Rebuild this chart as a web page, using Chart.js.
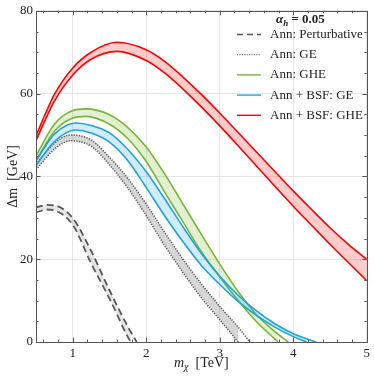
<!DOCTYPE html>
<html>
<head>
<meta charset="utf-8">
<script src="https://cdn.jsdelivr.net/npm/chart.js@4.4.1/dist/chart.umd.min.js"></script>
<style>
  html, body { margin: 0; padding: 0; background: #fff; }
</style>
</head>
<body>
<canvas id="myChart" width="374" height="381"></canvas>
<script>
// axis ticks
var xTicks = [1, 2, 3, 4, 5];
var yTicks = [0, 20, 40, 60, 80];

// Ann: Perturbative (dashed)
var pertX  = [0.5, 0.65, 0.75, 1.0, 1.25, 1.5, 1.75];
var pertHi = [32.5, 33.1, 33.0, 29.9, 22.0, 12.5, 3.7];
var pertLo = [31.3, 32.0, 31.8, 28.3, 19.0, 10.5, 1.2];
var pertHiEnd = 1.87, pertLoEnd = 1.79;

// Ann: GE (dotted)
var geX  = [0.5, 0.75, 0.97, 1.25, 1.5, 1.75, 2.0, 2.25, 2.5, 2.75, 3.0, 3.25];
var geHi = [43.0, 48.0, 50.0, 48.8, 44.6, 39.5, 33.3, 26.5, 20.0, 14.0, 8.6, 3.6];
var geLo = [41.6, 46.6, 48.6, 47.3, 42.8, 37.2, 30.5, 23.3, 16.8, 10.7, 5.4];
var geHiEnd = 3.41, geLoEnd = 3.25;

// Ann: GHE (green)
var gheX  = [0.5, 0.75, 1.0, 1.175, 1.5, 1.75, 2.0, 2.25, 2.5, 2.75, 3.0, 3.25, 3.5, 3.75];
var gheHi = [45.0, 52.6, 55.9, 56.3, 54.9, 51.8, 47.1, 40.6, 33.3, 26.0, 18.8, 12.2, 6.6, 2.5];
var gheLo = [43.8, 50.9, 54.1, 54.5, 52.6, 49.1, 43.6, 36.2, 29.0, 21.8, 15.7, 10.0, 4.9, 0.7];
var gheHiEnd = 3.93, gheLoEnd = 3.79;

// Ann + BSF: GE (blue)
var bgeX  = [0.5, 0.75, 1.04, 1.25, 1.5, 1.75, 2.0, 2.25, 2.5, 2.75, 3.0, 3.25, 3.5, 3.75, 4.0];
var bgeHi = [43.8, 50.2, 52.9, 52.3, 50.5, 46.5, 41.1, 34.6, 27.8, 21.4, 15.9, 11.3, 7.5, 4.4, 2.0];
var bgeLo = [42.6, 48.4, 51.2, 50.5, 48.3, 43.8, 37.3, 30.5, 24.2, 18.5, 13.9, 9.8, 6.4, 3.6, 1.3];
var bgeHiEnd = 4.31, bgeLoEnd = 4.18;

// Ann + BSF: GHE (red)
var bgheX  = [0.5, 0.625, 0.75, 1.0, 1.25, 1.6, 2.0, 2.25, 2.5, 2.75, 3.0, 3.25, 3.5, 3.75, 4.0, 4.25, 4.5, 4.75, 5.0];
var bgheHi = [49.8, 55.0, 59.8, 66.2, 70.0, 72.4, 70.6, 67.8, 64.0, 59.8, 55.3, 50.6, 45.9, 41.2, 36.5, 32.0, 27.6, 23.6, 20.0];
var bgheLo = [48.6, 53.6, 58.2, 64.5, 68.3, 70.2, 68.0, 65.0, 61.1, 56.8, 52.2, 47.4, 42.5, 37.6, 32.8, 28.2, 23.6, 19.2, 14.8];

var serif = '"Liberation Serif", "DejaVu Serif", serif';

function pts(xs, ys, endX) {
    var out = ys.map(function (y, i) { return { x: xs[i], y: y }; });
    if (endX != null) out.push({ x: endX, y: 0 });
    return out;
}

function band(label, xs, hi, lo, hiEnd, loEnd, line, fill, width, dash) {
    return [{
        label: label,
        data: pts(xs, hi, hiEnd),
        borderColor: line,
        backgroundColor: fill,
        borderWidth: width,
        borderDash: dash,
        fill: '+1'
    }, {
        label: '',
        data: pts(xs, lo, loEnd),
        borderColor: line,
        borderWidth: width,
        borderDash: dash,
        fill: false
    }];
}

var datasets = [].concat(
    band('Ann + BSF: GHE', bgheX, bgheHi, bgheLo, null, null, '#ff0000', 'rgba(255,0,0,0.2)', 1.6, []),
    band('Ann + BSF: GE', bgeX, bgeHi, bgeLo, bgeHiEnd, bgeLoEnd, '#1ca3e0', 'rgba(28,163,224,0.2)', 1.6, []),
    band('Ann: GHE', gheX, gheHi, gheLo, gheHiEnd, gheLoEnd, '#7ab534', 'rgba(122,181,52,0.22)', 1.6, []),
    band('Ann: GE', geX, geHi, geLo, geHiEnd, geLoEnd, '#555555', 'rgba(120,120,120,0.3)', 1.5, [1.3, 1.3]),
    band('Ann: Perturbative', pertX, pertHi, pertLo, pertHiEnd, pertLoEnd, '#555555', 'rgba(150,150,150,0.25)', 1.8, [7, 4])
);

// legend rows, top to bottom
var legendItems = [
    { text: 'Ann: Perturbative', color: '#555555', dash: [6, 4], width: 1.6 },
    { text: 'Ann: GE', color: '#777777', dash: [1.2, 1.2], width: 1.2 },
    { text: 'Ann: GHE', color: '#7ab534', dash: [], width: 1.4 },
    { text: 'Ann + BSF: GE', color: '#1ca3e0', dash: [], width: 1.4 },
    { text: 'Ann + BSF: GHE', color: '#ff0000', dash: [], width: 1.4 }
];

var framePlugin = {
    id: 'frame',
    afterDatasetsDraw: function (chart) {
        var c = chart.ctx, a = chart.chartArea;
        var sx = chart.scales.x, sy = chart.scales.y;
        c.save();
        c.strokeStyle = '#555';
        c.lineWidth = 1;
        c.setLineDash([]);
        c.strokeRect(Math.round(a.left) + 0.5, Math.round(a.top) + 0.5,
            Math.round(a.right) - Math.round(a.left), Math.round(a.bottom) - Math.round(a.top));
        c.beginPath();
        for (var i = 3; i <= 25; i++) {
            var px = Math.round(sx.getPixelForValue(i * 0.2)) + 0.5;
            var len = (i % 5 === 0) ? 4.5 : 2.5;
            c.moveTo(px, a.bottom); c.lineTo(px, a.bottom - len);
            c.moveTo(px, a.top); c.lineTo(px, a.top + len);
        }
        for (var j = 1; j < 16; j++) {
            var py = Math.round(sy.getPixelForValue(j * 5)) + 0.5;
            var l2 = (j % 4 === 0) ? 4.5 : 2.5;
            c.moveTo(a.left, py); c.lineTo(a.left + l2, py);
            c.moveTo(a.right, py); c.lineTo(a.right - l2, py);
        }
        c.stroke();
        c.restore();
    },
    afterDraw: function (chart) {
        var c = chart.ctx, a = chart.chartArea;
        c.save();
        c.fillStyle = '#222';
        c.textBaseline = 'alphabetic';

        // x title: m_chi [TeV]
        c.font = 'italic 14px ' + serif;
        var w1 = c.measureText('m').width;
        c.font = 'italic 10px ' + serif;
        var w2 = c.measureText('\u03c7').width;
        c.font = '14px ' + serif;
        var w3 = c.measureText('  [TeV]').width;
        var x0 = (a.left + a.right) / 2 - (w1 + w2 + w3) / 2;
        c.font = 'italic 14px ' + serif;
        c.fillText('m', x0, 367);
        c.font = 'italic 10px ' + serif;
        c.fillText('\u03c7', x0 + w1, 370);
        c.font = '14px ' + serif;
        c.fillText('  [TeV]', x0 + w1 + w2, 367);

        // y title
        c.save();
        c.translate(13, (a.top + a.bottom) / 2);
        c.rotate(-Math.PI / 2);
        c.textAlign = 'center';
        c.textBaseline = 'middle';
        c.font = '14px ' + serif;
        c.fillText('\u0394m  [GeV]', 0, 0);
        c.restore();

        // legend title
        c.font = 'bold italic 13px ' + serif;
        c.fillText('\u03b1', 276, 23);
        var wa = c.measureText('\u03b1').width;
        c.font = 'bold italic 9px ' + serif;
        c.fillText('h', 276 + wa, 26);
        var wh = c.measureText('h').width;
        c.font = 'bold 13px ' + serif;
        c.fillText(' = 0.05', 276 + wa + wh, 23);

        // legend rows
        legendItems.forEach(function (it, k) {
            var y = 34.5 + k * 20.2;
            c.beginPath();
            c.strokeStyle = it.color;
            c.lineWidth = it.width;
            c.setLineDash(it.dash);
            c.moveTo(237, y);
            c.lineTo(261, y);
            c.stroke();
            c.setLineDash([]);
            c.font = '13px ' + serif;
            c.fillStyle = '#222';
            c.textBaseline = 'middle';
            c.fillText(it.text, 270, y);
        });
        c.restore();
    }
};

var ctx = document.getElementById('myChart');
var myChart = new Chart(ctx, {
    type: 'line',
    data: { datasets: datasets },
    options: {
        responsive: false,
        animation: false,
        layout: { padding: { top: 6, right: 5, left: 0, bottom: 0 } },
        elements: {
            point: { radius: 0 },
            line: { cubicInterpolationMode: 'monotone' }
        },
        plugins: {
            legend: { display: false },
            tooltip: { enabled: false },
            filler: { propagate: false }
        },
        scales: {
            x: {
                type: 'linear',
                min: 0.5,
                max: 5,
                afterBuildTicks: function (s) { s.ticks = xTicks.map(function (v) { return { value: v }; }); },
                afterFit: function (s) { s.height = 39; },
                ticks: { font: { family: serif, size: 13 }, color: '#222', padding: 4, maxRotation: 0 },
                grid: { color: '#e6e6e6', drawTicks: false },
                border: { display: false }
            },
            y: {
                min: 0,
                max: 80,
                afterBuildTicks: function (s) { s.ticks = yTicks.map(function (v) { return { value: v }; }); },
                afterFit: function (s) { s.width = 36; },
                ticks: { font: { family: serif, size: 13 }, color: '#222', padding: 3 },
                grid: { color: '#e6e6e6', drawTicks: false },
                border: { display: false }
            }
        }
    },
    plugins: [framePlugin]
});
</script>
</body>
</html>
